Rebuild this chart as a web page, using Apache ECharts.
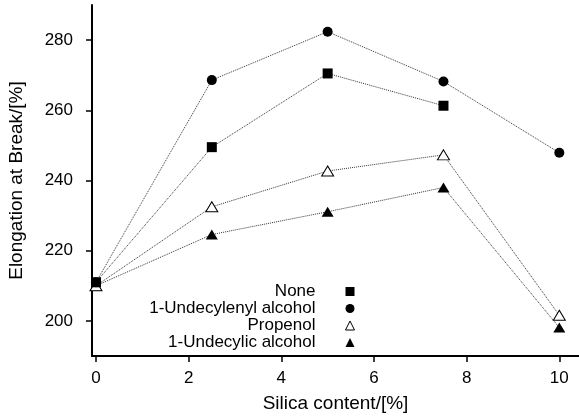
<!DOCTYPE html>
<html>
<head>
<meta charset="utf-8">
<script src="https://cdn.jsdelivr.net/npm/echarts@6/dist/echarts.min.js"></script>
<style>html,body{margin:0;padding:0;background:#fff}#c{width:579px;height:419px}</style>
</head>
<body>
<div id="c"></div>
<script>
const xValues = [0, 2.5, 5, 7.5, 10];
const noneVals = [211, 249.5, 270.5, 261.3, null];
const undecylenylVals = [211, 268.6, 282.4, 268.2, 247.9];
const propenolVals = [210, 232.5, 242.7, 247.3, 201.6];
const undecylicVals = [210, 224.6, 231.1, 238.0, 198.1];
const seriesNames = ['None', '1-Undecylenyl alcohol', 'Propenol', '1-Undecylic alcohol'];
const xTicks = [0, 2, 4, 6, 8, 10];
const yTicks = [200, 220, 240, 260, 280];

function pairs(vals) {
  const out = [];
  xValues.forEach((x, i) => { if (vals[i] != null) out.push([x, vals[i]]); });
  return out;
}

const font = 'Liberation Sans, Arial, sans-serif';
const lineStyle = { color: '#333', width: 1, type: [1, 1] };

const chart = echarts.init(document.getElementById('c'), null, { renderer: 'canvas' });
chart.setOption({
  animation: false,
  backgroundColor: '#fff',
  grid: { left: 92, right: 0, top: 5, bottom: 63, outerBoundsMode: 'none', containLabel: false },
  xAxis: {
    type: 'value', min: -0.086, max: 10.425,
    name: 'Silica content/[%]', nameLocation: 'middle', nameGap: 38,
    nameTextStyle: { fontFamily: font, fontSize: 19, color: '#000' },
    axisLine: { onZero: false, lineStyle: { color: '#000', width: 2 } },
    axisTick: { customValues: xTicks, length: 6, lineStyle: { color: '#000', width: 1.5 } },
    axisLabel: { customValues: xTicks, margin: 14, fontFamily: font, fontSize: 17, color: '#000' },
    splitLine: { show: false }
  },
  yAxis: {
    type: 'value', min: 190, max: 290,
    name: 'Elongation at Break/[%]', nameLocation: 'middle', nameGap: 66,
    nameTextStyle: { fontFamily: font, fontSize: 19, color: '#000' },
    axisLine: { onZero: false, lineStyle: { color: '#000', width: 2 } },
    axisTick: { customValues: yTicks, length: 6, lineStyle: { color: '#000', width: 1.5 } },
    axisLabel: { customValues: yTicks, margin: 19, fontFamily: font, fontSize: 17, color: '#000' },
    splitLine: { show: false }
  },
  legend: {
    orient: 'vertical', align: 'right',
    right: 224, top: 283,
    padding: 0, itemGap: 0, itemWidth: 9, itemHeight: 9,
    textStyle: { fontFamily: font, fontSize: 17, color: '#000', padding: [0, 25, 0, 0] },
    data: [
      { name: seriesNames[0], icon: 'rect' },
      { name: seriesNames[1], icon: 'circle' },
      { name: seriesNames[2], icon: 'triangle', itemStyle: { color: '#fff', borderColor: '#000', borderWidth: 1 } },
      { name: seriesNames[3], icon: 'triangle' }
    ]
  },
  series: [
    { name: seriesNames[3], type: 'line', data: pairs(undecylicVals), symbol: 'triangle', symbolSize: [12, 10],
      itemStyle: { color: '#000' }, lineStyle: lineStyle, z: 2 },
    { name: seriesNames[2], type: 'line', data: pairs(propenolVals), symbol: 'triangle', symbolSize: [12, 10],
      itemStyle: { color: '#fff', borderColor: '#000', borderWidth: 1 }, lineStyle: lineStyle, z: 3 },
    { name: seriesNames[1], type: 'line', data: pairs(undecylenylVals), symbol: 'circle', symbolSize: 10,
      itemStyle: { color: '#000' }, lineStyle: lineStyle, z: 4 },
    { name: seriesNames[0], type: 'line', data: pairs(noneVals), symbol: 'rect', symbolSize: 10,
      itemStyle: { color: '#000' }, lineStyle: lineStyle, z: 5 }
  ]
});
</script>
</body>
</html>
